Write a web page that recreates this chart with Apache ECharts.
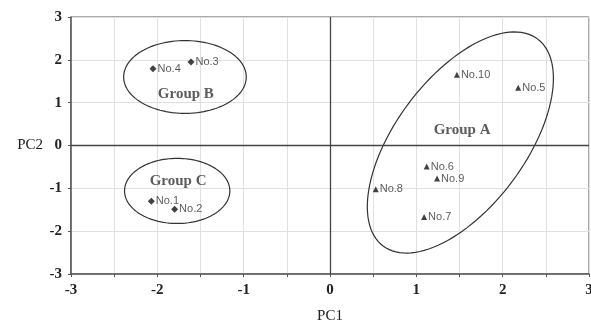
<!DOCTYPE html>
<html><head><meta charset="utf-8">
<script src="https://cdn.jsdelivr.net/npm/echarts@6/dist/echarts.min.js"></script>
<style>html,body{margin:0;padding:0;background:#fff}#c{width:591px;height:323px}</style>
</head><body><div id="c"></div>
<script>
// Sample points (PC1, PC2)
var diamondNames = ['No.1','No.2','No.3','No.4'];
var diamondPC1 = [-2.07, -1.80, -1.61, -2.05];
var diamondPC2 = [-1.30, -1.49, 1.95, 1.79];
var triangleNames = ['No.5','No.6','No.7','No.8','No.9','No.10'];
var trianglePC1 = [2.18, 1.12, 1.09, 0.53, 1.24, 1.47];
var trianglePC2 = [1.35, -0.49, -1.67, -1.02, -0.77, 1.65];
// Group annotations
var groupNames = ['Group A','Group B','Group C'];
var groupLabelX = [1.53, -1.67, -1.76];
var groupLabelY = [0.37, 1.21, -0.84];
// ellipse: centre and two conjugate half-axis vectors (data units)
var ellCX = [1.51, -1.68, -1.77];
var ellCY = [0.07, 1.60, -1.06];
var ellUX = [0.892, 0.71, 0.61];
var ellUY = [2.42, 0, 0];
var ellVX = [0.605, 0, 0];
var ellVY = [-0.898, 0.85, 0.76];
var xTicks = [-3,-2,-1,0,1,2,3];
var yTicks = [-3,-2,-1,0,1,2,3];

var serif = '"Liberation Serif","Times New Roman",serif';
var sans = '"Liberation Sans",Arial,sans-serif';
var chart = echarts.init(document.getElementById('c'));
function pts(xs, ys, names){ return xs.map(function(x,i){return [x, ys[i], names[i]];}); }
var ellData = ellCX.map(function(c,i){return [c, ellCY[i], ellUX[i], ellUY[i], ellVX[i], ellVY[i]];});

chart.setOption({
  animation:false,
  grid:{left:71,right:2,top:17,bottom:49,show:true,borderColor:'#555',borderWidth:1,
        containLabel:false,outerBoundsMode:'none'},
  xAxis:{type:'value',min:xTicks[0],max:xTicks[xTicks.length-1],interval:1,
    name:'PC1',nameLocation:'middle',nameGap:35,
    nameTextStyle:{fontFamily:serif,fontSize:15,color:'#222'},
    axisLine:{onZero:false,lineStyle:{color:'#555',width:1.5}},
    axisTick:{show:true,length:3,lineStyle:{color:'#555'}},
    minorTick:{show:true,splitNumber:2,length:3,lineStyle:{color:'#555'}},
    axisLabel:{fontFamily:serif,fontSize:15,fontWeight:'bold',color:'#222',margin:9},
    splitLine:{show:true,lineStyle:{color:'#e0e0e0'}},
    minorSplitLine:{show:true,lineStyle:{color:'#e0e0e0'}}},
  yAxis:{type:'value',min:yTicks[0],max:yTicks[yTicks.length-1],interval:1,
    name:'PC2',nameLocation:'middle',nameGap:28,nameRotate:0,
    nameTextStyle:{fontFamily:serif,fontSize:15,color:'#222'},
    axisLine:{show:true,onZero:false,lineStyle:{color:'#555',width:1.5}},
    axisTick:{show:true,length:3,lineStyle:{color:'#555'}},
    axisLabel:{fontFamily:serif,fontSize:15,fontWeight:'bold',color:'#222',margin:9},
    splitLine:{show:true,lineStyle:{color:'#e0e0e0'}}},
  series:[
    {type:'custom',silent:true,z:3,
     renderItem:function(params, api){
       var cx=api.value(0), cy=api.value(1), ux=api.value(2), uy=api.value(3), vx=api.value(4), vy=api.value(5);
       var p=[];
       for(var k=0;k<=120;k++){var t=k/120*2*Math.PI;
         p.push(api.coord([cx+ux*Math.cos(t)+vx*Math.sin(t), cy+uy*Math.cos(t)+vy*Math.sin(t)]));}
       return {type:'polyline',shape:{points:p},style:{stroke:'#333',lineWidth:1.2,fill:null}};
     },
     data:ellData},
    {type:'scatter',symbol:'diamond',symbolSize:7,z:5,itemStyle:{color:'#111'},
     data:pts(diamondPC1,diamondPC2,diamondNames),
     label:{show:true,position:'right',distance:1,formatter:function(p){return p.value[2];},
       fontFamily:sans,fontSize:11,color:'#333'}},
    {type:'scatter',symbol:'triangle',symbolSize:6,z:5,itemStyle:{color:'#111'},
     data:pts(trianglePC1,trianglePC2,triangleNames),
     label:{show:true,position:'right',distance:1,formatter:function(p){return p.value[2];},
       fontFamily:sans,fontSize:11,color:'#333'},
     markLine:{silent:true,symbol:'none',label:{show:false},lineStyle:{color:'#444',width:1.3,type:'solid'},
       data:[{xAxis:0},{yAxis:0}]}},
    {type:'scatter',symbolSize:0,z:6,
     data:pts(groupLabelX,groupLabelY,groupNames),
     label:{show:true,position:'inside',formatter:function(p){return p.value[2];},
       fontFamily:serif,fontSize:15,fontWeight:'bold',color:'#333'}}
  ]
});
</script></body></html>
